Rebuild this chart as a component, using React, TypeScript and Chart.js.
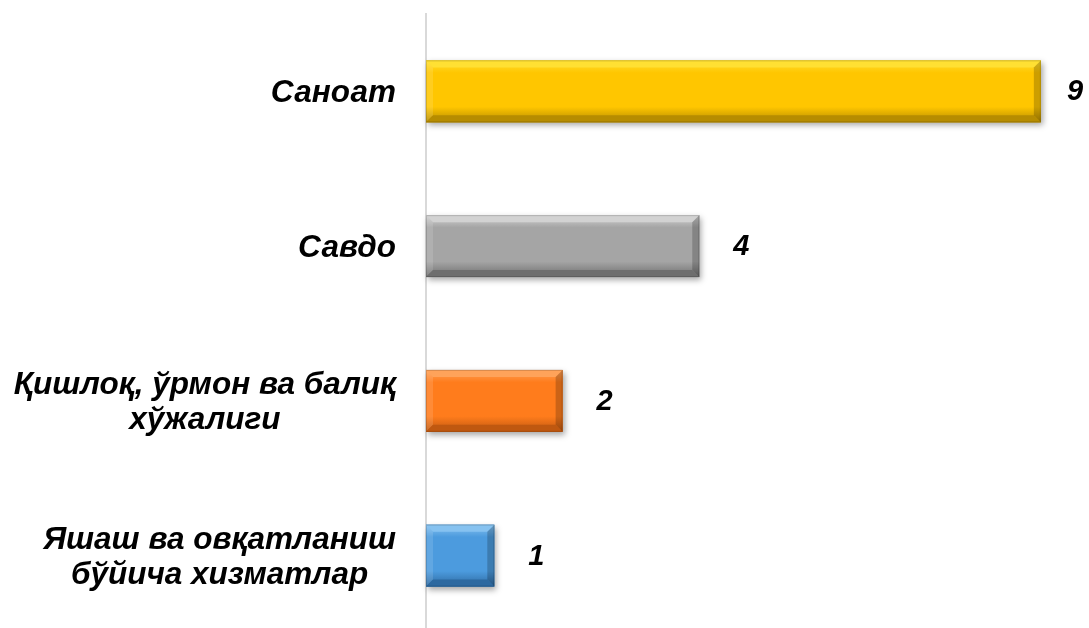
import React, { useEffect, useRef } from "react";
import { Chart, registerables } from "chart.js";

Chart.register(...registerables);

const categories: string[][] = [
  ["Саноат"],
  ["Савдо"],
  ["Қишлоқ, ўрмон ва балиқ", "хўжалиги"],
  ["Яшаш ва овқатланиш", "бўйича хизматлар"],
];
const values: number[] = [9, 4, 2, 1];
const baseColors: string[] = ["#FFC600", "#A5A5A5", "#FF7C1C", "#4C9BDE"];
const lightColors: string[] = ["#FFE033", "#D2D2D2", "#FFA35A", "#86C2F0"];
const darkColors: string[] = ["#B68C00", "#6E6E6E", "#BF5810", "#2D69A0"];

const FONT = "'Liberation Sans', Arial, sans-serif";

const barStylePlugin = {
  id: "barStyle",
  beforeDatasetsDraw(chart: any) {
    const ctx = chart.ctx;
    const meta = chart.getDatasetMeta(0);
    ctx.save();
    meta.data.forEach((bar: any) => {
      const l = Math.min(bar.base, bar.x);
      const r = Math.max(bar.base, bar.x);
      const t = bar.y - bar.height / 2;
      const h = bar.height;
      ctx.shadowColor = "rgba(0,0,0,0.35)";
      ctx.shadowBlur = 6;
      ctx.shadowOffsetX = 2;
      ctx.shadowOffsetY = 3;
      ctx.fillStyle = "rgba(120,120,120,1)";
      ctx.fillRect(l, t, r - l, h);
    });
    ctx.restore();
  },
  afterDatasetsDraw(chart: any) {
    const ctx = chart.ctx;
    const meta = chart.getDatasetMeta(0);
    ctx.save();
    meta.data.forEach((bar: any, i: number) => {
      const l = Math.min(bar.base, bar.x);
      const r = Math.max(bar.base, bar.x);
      const t = bar.y - bar.height / 2;
      const b = bar.y + bar.height / 2;
      const w = 7;
      const g = ctx.createLinearGradient(0, t, 0, b);
      g.addColorStop(0, lightColors[i]);
      g.addColorStop(0.2, baseColors[i]);
      g.addColorStop(0.75, baseColors[i]);
      g.addColorStop(1, darkColors[i]);
      ctx.fillStyle = g;
      ctx.fillRect(l, t, r - l, b - t);
      ctx.beginPath();
      ctx.moveTo(l, t);
      ctx.lineTo(r, t);
      ctx.lineTo(r - w, t + w);
      ctx.lineTo(l + w, t + w);
      ctx.closePath();
      ctx.fillStyle = lightColors[i];
      ctx.fill();
      ctx.beginPath();
      ctx.moveTo(l, t);
      ctx.lineTo(l + w, t + w);
      ctx.lineTo(l + w, b - w);
      ctx.lineTo(l, b);
      ctx.closePath();
      ctx.fillStyle = "rgba(255,255,255,0.12)";
      ctx.fill();
      ctx.beginPath();
      ctx.moveTo(r, t);
      ctx.lineTo(r, b);
      ctx.lineTo(r - w, b - w);
      ctx.lineTo(r - w, t + w);
      ctx.closePath();
      ctx.fillStyle = "rgba(0,0,0,0.2)";
      ctx.fill();
      ctx.beginPath();
      ctx.moveTo(l, b);
      ctx.lineTo(r, b);
      ctx.lineTo(r - w, b - w);
      ctx.lineTo(l + w, b - w);
      ctx.closePath();
      ctx.fillStyle = darkColors[i];
      ctx.fill();
      ctx.strokeStyle = "rgba(0,0,0,0.15)";
      ctx.lineWidth = 1;
      ctx.strokeRect(l + 0.5, t + 0.5, r - l - 1, b - t - 1);

      ctx.fillStyle = "#000";
      ctx.font = `italic bold 29px ${FONT}`;
      ctx.textAlign = "center";
      ctx.textBaseline = "middle";
      ctx.fillText(String(values[i]), Math.min(r + 42, 1075), bar.y + 1);
    });
    ctx.restore();
  },
  afterDraw(chart: any) {
    const ctx = chart.ctx;
    const meta = chart.getDatasetMeta(0);
    const rightEdge = chart.chartArea.left - 30;
    const lineH = 35;
    ctx.save();
    ctx.fillStyle = "#000";
    ctx.font = `italic bold 31.5px ${FONT}`;
    ctx.textAlign = "center";
    ctx.textBaseline = "middle";
    meta.data.forEach((bar: any, i: number) => {
      const lines = categories[i];
      const maxW = Math.max(...lines.map((s) => ctx.measureText(s).width));
      const cx = rightEdge - maxW / 2;
      const startY = bar.y + 2 - ((lines.length - 1) * lineH) / 2;
      lines.forEach((s, j) => {
        ctx.fillText(s, cx, startY + j * lineH);
      });
    });
    ctx.restore();
  },
};

export default function App() {
  const ref = useRef<HTMLCanvasElement>(null);
  useEffect(() => {
    if (!ref.current) return;
    const chart = new Chart(ref.current, {
      type: "bar",
      data: {
        labels: categories.map((c) => c.join(" ")),
        datasets: [
          {
            data: values,
            backgroundColor: baseColors,
            barPercentage: 0.4,
            categoryPercentage: 1,
            borderWidth: 0,
          },
        ],
      },
      options: {
        indexAxis: "y",
        responsive: false,
        animation: false,
        layout: { padding: { left: 426, top: 14, right: 14, bottom: 0 } },
        plugins: { legend: { display: false }, tooltip: { enabled: false } },
        scales: {
          x: { display: false, min: 0, max: 9.5 },
          y: {
            ticks: { display: false },
            grid: { display: false },
            border: { display: true, color: "#D9D9D9", width: 2 },
            afterFit: (s: any) => {
              s.width = 0;
            },
          },
        },
      },
      plugins: [barStylePlugin],
    });
    return () => chart.destroy();
  }, []);
  return (
    <div style={{ position: "fixed", left: 0, top: 0, width: 1089, height: 628, overflow: "hidden", background: "#fff" }}>
      <canvas ref={ref} width={1089} height={633} />
    </div>
  );
}
